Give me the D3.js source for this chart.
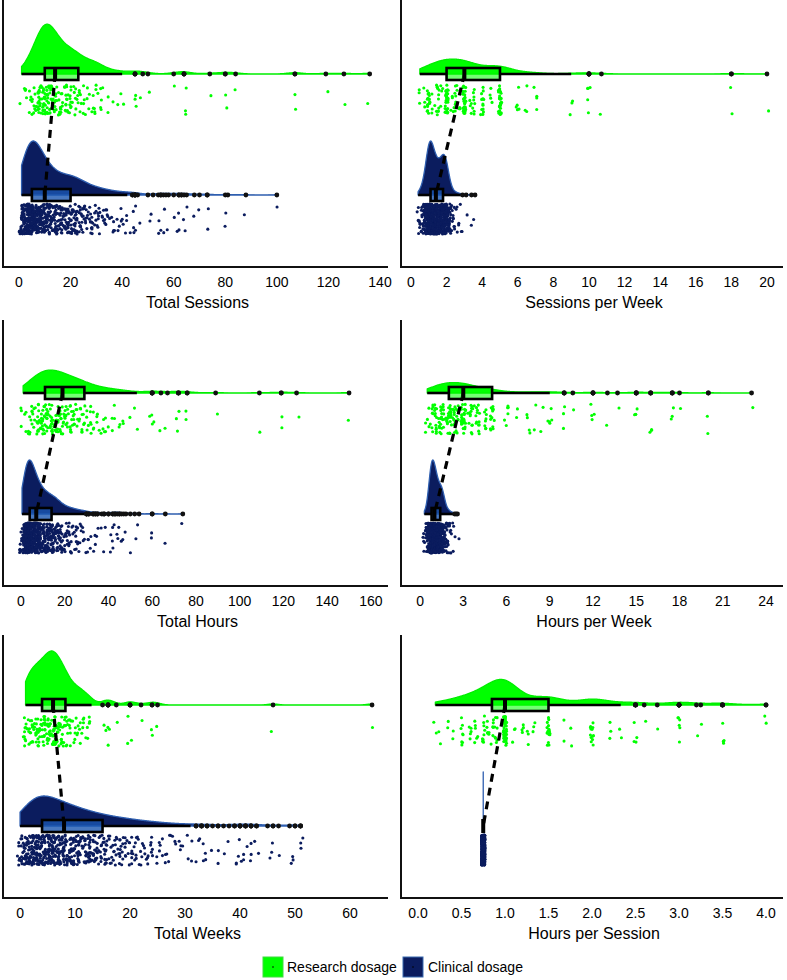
<!DOCTYPE html>
<html><head><meta charset="utf-8">
<script src="https://cdn.jsdelivr.net/npm/d3@7/dist/d3.min.js"></script>
<style>body{margin:0;background:#fff} svg{display:block} text{font-family:"Liberation Sans",Arial,sans-serif;fill:#000}</style>
</head><body><svg id="c" width="787" height="980"></svg>
<script>
// ---------- DATA (value, count) pairs ----------
const groups = ["Research dosage", "Clinical dosage"];
const titles = ["Total Sessions", "Sessions per Week", "Total Hours", "Hours per Week", "Total Weeks", "Hours per Session"];

const sessRes = [[1,1],[2,2],[3,2],[4,3],[5,4],[6,5],[7,8],[8,10],[9,12],[10,14],[11,12],[12,11],[13,10],[14,9],[15,8],[16,6],[17,6],[18,5],[19,5],[20,7],[21,5],[22,5],[23,4],[24,4],[25,3],[26,3],[27,2],[28,3],[29,3],[30,4],[31,2],[32,2],[33,1],[35,2],[36,1],[38,1],[40,2],[45,3],[48,1],[50,1],[60,1],[64,3],[74,1],[80,2],[84,1],[107,2],[119,1],[126,1],[136,1]];
const sessCli = [[1,20],[2,25],[3,35],[4,40],[5,40],[6,38],[7,32],[8,28],[9,24],[10,22],[11,18],[12,17],[13,15],[14,14],[15,13],[16,12],[17,12],[18,12],[19,12],[20,12],[21,12],[22,11],[23,10],[24,9],[25,8],[26,7],[27,6],[28,6],[29,5],[30,5],[31,4],[32,4],[33,4],[34,3],[35,3],[36,3],[37,2],[38,2],[39,2],[40,2],[41,2],[42,2],[44,2],[45,4],[46,1],[50,1],[52,1],[54,1],[55,2],[56,1],[57,1],[58,1],[60,1],[62,2],[63,2],[64,1],[65,1],[68,1],[70,1],[73,2],[80,1],[81,1],[88,1],[100,1]];

const spwRes = [[0.5,3],[0.7,3],[1,18],[1.25,4],[1.5,12],[1.75,4],[2,35],[2.33,4],[2.5,10],[2.67,4],[3,35],[3.33,4],[3.5,8],[4,14],[4.5,4],[5,34],[6,5],[6.5,3],[7,4],[9,3],[10,5],[10.7,1],[18,2],[20,1]];
const spwCli = [[0.4,3],[0.5,5],[0.6,8],[0.7,14],[0.8,25],[0.9,40],[1.0,52],[1.1,56],[1.2,50],[1.3,42],[1.4,36],[1.5,33],[1.6,33],[1.7,36],[1.8,40],[1.9,40],[2.0,36],[2.1,22],[2.2,12],[2.3,6],[2.4,4],[2.5,3],[2.6,2],[2.7,2],[2.8,1],[2.9,1],[3.1,1],[3.4,1],[3.6,1]];

const hoursRes = [[1,4],[3,6],[5,9],[7,11],[9,13],[11,15],[13,15],[15,14],[17,13],[19,12],[21,11],[23,10],[25,9],[27,8],[29,7],[31,5],[33,5],[35,4],[37,3],[39,3],[41,3],[43,2],[45,2],[47,2],[49,1],[51,1],[53,1],[60,4],[64,1],[67,1],[72,3],[76,2],[89,1],[109,1],[119,2],[126,1],[150,1]];
const hoursCli = [[0.5,8],[1,22],[2,50],[3,55],[4,52],[5,45],[6,38],[7,32],[8,27],[9,23],[10,21],[11,19],[12,18],[13,17],[14,16],[15,15],[16,14],[17,12],[18,10],[19,8],[20,7],[21,6],[22,6],[23,5],[24,5],[25,4],[26,4],[27,3],[28,3],[29,3],[30,3],[31,2],[33,2],[34,2],[35,2],[37,1],[38,2],[40,2],[42,2],[43,2],[44,1],[45,2],[46,1],[47,1],[48,1],[50,1],[52,1],[54,1],[60,2],[66,1],[74,1]];

const hpwRes = [[0.5,4],[0.75,5],[1,14],[1.25,5],[1.5,14],[1.75,6],[2,22],[2.25,6],[2.5,14],[2.75,6],[3,22],[3.25,5],[3.5,10],[3.75,5],[4,12],[4.5,8],[5,14],[6,6],[6.7,2],[7.5,4],[8,2],[8.5,2],[9,5],[10,3],[10.6,1],[12,4],[13,1],[13.7,1],[15,4],[16,3],[17.5,3],[18,1],[20,2],[23,1]];
const hpwCli = [[0.3,3],[0.4,5],[0.5,15],[0.6,30],[0.7,50],[0.8,62],[0.9,64],[1.0,58],[1.1,50],[1.2,42],[1.3,36],[1.4,34],[1.5,32],[1.6,26],[1.7,18],[1.8,10],[1.9,6],[2.0,5],[2.1,3],[2.2,2],[2.3,2],[2.4,1],[2.5,1],[2.6,1]];

const weeksRes = [[1,12],[2,15],[3,17],[4,18],[5,22],[6,24],[7,20],[8,16],[9,10],[10,8],[11,7],[12,5],[13,3],[15,1],[16,4],[17.5,1],[20,3],[22,1],[24,2],[25,1],[46,1],[64,1]];
const weeksCli = [[0,15],[1,30],[2,38],[3,42],[4,42],[5,40],[6,36],[7,32],[8,30],[9,27],[10,25],[11,22],[12,20],[13,18],[14,16],[15,15],[16,13],[17,12],[18,11],[19,10],[20,9],[21,8],[22,7],[23,6],[24,6],[25,5],[26,4],[27,4],[28,3],[29,3],[30,2],[31,3],[32,2],[33,3],[34,2],[35,1],[36,2],[37,1],[38,1],[39,2],[40,3],[41,3],[42,3],[43,2],[45,1],[46,2],[47,1],[49,1],[50,2],[51,3]];

const hpsRes = [[0.2,2],[0.25,2],[0.33,2],[0.4,2],[0.5,8],[0.6,5],[0.67,6],[0.75,9],[0.8,6],[0.85,6],[0.9,8],[1.0,43],[1.1,3],[1.2,4],[1.25,3],[1.33,3],[1.5,16],[1.67,2],[1.75,2],[2.0,13],[2.2,3],[2.33,2],[2.5,4],[2.6,1],[2.75,1],[3.0,6],[3.2,1],[3.25,1],[3.5,4],[4.0,2]];
const hpsCli = [[0.75,580]];

// tick labels
const sessTicks = [0,20,40,60,80,100,120,140];
const spwTicks = [0,2,4,6,8,10,12,14,16,18,20];
const hoursTicks = [0,20,40,60,80,100,120,140,160];
const hpwTicks = [0,3,6,9,12,15,18,21,24];
const weeksTicks = [0,10,20,30,40,50,60];
const hpsTicks = [0,0.5,1,1.5,2,2.5,3,3.5,4];
// axis limits (value range shown on each x axis)
const sessLim = [-6.2,143.1], spwLim = [-0.56,20.9], hoursLim = [-8.2,167.8], hpwLim = [-1.32,25.18], weeksLim = [-3.1,66.9], hpsLim = [-0.195,4.195];

// ---------- build ----------
const panels = [
  {res: sessRes, cli: sessCli, ticks: sessTicks, lim: sessLim, title: titles[0], fmt: d3.format("d"), jw: 2.5},
  {res: spwRes, cli: spwCli, ticks: spwTicks, lim: spwLim, title: titles[1], fmt: d3.format("d"), jw: 1.6},
  {res: hoursRes, cli: hoursCli, ticks: hoursTicks, lim: hoursLim, title: titles[2], fmt: d3.format("d"), jw: 2.5},
  {res: hpwRes, cli: hpwCli, ticks: hpwTicks, lim: hpwLim, title: titles[3], fmt: d3.format("d"), jw: 2.2},
  {res: weeksRes, cli: weeksCli, ticks: weeksTicks, lim: weeksLim, title: titles[4], fmt: d3.format("d"), jw: 2.8},
  {res: hpsRes, cli: hpsCli, ticks: hpsTicks, lim: hpsLim, title: titles[5], fmt: d3.format(".1f"), jw: 1.6}
];
const colX = [[3,388],[401,783]];
const rowY = [[0,267],[320,586],[635,898]];
const fillCol = ["#00ff00", "#0b1c5e"];
const lineCol = ["#00ee00", "#2f5fb0"];
const boxFill = ["rgba(0,255,0,0.55)", "rgba(26,86,176,0.8)"];

function expand(pairs){ const out=[]; pairs.forEach(([v,c])=>{ for(let k=0;k<c;k++) out.push(v); }); return out; }
function nrd0(s){
  const n=s.length, sd=d3.deviation(s)||0;
  const iqr=d3.quantile(s,.75)-d3.quantile(s,.25);
  let lo=Math.min(sd, iqr/1.34);
  if(!(lo>0)) lo = sd || Math.abs(s[0]) || 1;
  return 0.9*lo*Math.pow(n,-0.2);
}
function kde(s){
  const bw=nrd0(s), lo=s[0], hi=s[s.length-1], m=512, pts=[];
  const norm = s.length*bw*Math.sqrt(2*Math.PI);
  for(let i=0;i<m;i++){
    const x = lo + (hi-lo)*i/(m-1);
    let sum=0; for(const v of s){ const z=(x-v)/bw; sum+=Math.exp(-0.5*z*z); }
    pts.push([x, sum/norm]);
  }
  return pts;
}
function stats(s){
  const q1=d3.quantile(s,.25), med=d3.quantile(s,.5), q3=d3.quantile(s,.75), iqr=q3-q1;
  const lo=q1-1.5*iqr, hi=q3+1.5*iqr;
  const inside=s.filter(v=>v>=lo&&v<=hi);
  return {q1,med,q3,wlo:d3.min(inside),whi:d3.max(inside),out:s.filter(v=>v<lo||v>hi)};
}
// deterministic scatter offsets for the jitter layout
const hash = (i, k) => { const t = Math.sin(i*12.9898 + k*78.233)*43758.5453; return t - Math.floor(t); };

const svg = d3.select("#c");

panels.forEach((p,pi)=>{
  const col = colX[pi%2], row = rowY[Math.floor(pi/2)];
  const axisY = row[1];
  const base = [axisY-193, axisY-72];
  const band = [[11,41],[9,39]];
  const x = d3.scaleLinear().domain(p.lim).range(col);
  const g = svg.append("g");
  const sets = [p.res, p.cli].map(d=>expand(d).sort(d3.ascending));
  const dens = sets.map(kde);
  const maxD = d3.max(dens.flat(), d=>d[1]);
  const h = d3.scaleLinear().domain([0,maxD]).range([0,54]);

  // half violins
  dens.forEach((dd,gi)=>{
    const area = d3.area().x(d=>x(d[0])).y0(base[gi]).y1(d=>base[gi]-h(d[1]));
    g.append("path").attr("d", area(dd)).attr("fill", fillCol[gi])
      .attr("stroke", lineCol[gi]).attr("stroke-width", 1.3).attr("stroke-linejoin","round");
  });
  // jittered points
  sets.forEach((s,gi)=>{
    g.append("g").selectAll("circle").data(s).join("circle")
      .attr("cx",(v,i)=>x(v) + (hash(i, pi*2+gi+1)-0.5)*2*p.jw)
      .attr("cy",(v,i)=>base[gi] + band[gi][0] + hash(i+7919, pi*2+gi+3)*(band[gi][1]-band[gi][0]))
      .attr("r",1.55).attr("fill",fillCol[gi]);
  });
  const st = sets.map(stats);
  // dashed median line
  g.append("line").attr("x1",x(st[0].med)).attr("y1",base[0]).attr("x2",x(st[1].med)).attr("y2",base[1])
    .attr("stroke","#000").attr("stroke-width",3.2).attr("stroke-dasharray","8,6");
  // box plots
  st.forEach((b,gi)=>{
    const y=base[gi];
    g.append("line").attr("x1",x(b.wlo)).attr("x2",x(b.q1)).attr("y1",y).attr("y2",y).attr("stroke","#000").attr("stroke-width",2.6);
    g.append("line").attr("x1",x(b.q3)).attr("x2",x(b.whi)).attr("y1",y).attr("y2",y).attr("stroke","#000").attr("stroke-width",2.6);
    g.append("rect").attr("x",x(b.q1)).attr("y",y-6).attr("width",x(b.q3)-x(b.q1)).attr("height",12)
      .attr("fill",boxFill[gi]).attr("stroke","#000").attr("stroke-width",2.6);
    g.append("line").attr("x1",x(b.med)).attr("x2",x(b.med)).attr("y1",y-7).attr("y2",y+7).attr("stroke","#000").attr("stroke-width",4);
    g.append("g").selectAll("circle").data(b.out).join("circle")
      .attr("cx",v=>x(v)).attr("cy",y).attr("r",2.4).attr("fill","#111");
  });
  // axes
  g.append("line").attr("x1",col[0]).attr("x2",col[0]).attr("y1",row[0]).attr("y2",axisY+1).attr("stroke","#111").attr("stroke-width",2);
  g.append("line").attr("x1",col[0]-1).attr("x2",col[1]).attr("y1",axisY).attr("y2",axisY).attr("stroke","#111").attr("stroke-width",2);
  g.append("g").selectAll("text").data(p.ticks).join("text")
    .attr("x",t=>x(t)).attr("y",axisY+20).attr("text-anchor","middle").attr("font-size","14px").text(p.fmt);
  g.append("text").attr("x",(col[0]+col[1])/2+2).attr("y",axisY+41).attr("text-anchor","middle")
    .attr("font-size","16px").text(p.title);
});

// legend
const lg = svg.append("g");
const legX = [263, 403], legTx = [287, 428];
groups.forEach((name,gi)=>{
  lg.append("rect").attr("x",legX[gi]).attr("y",957).attr("width",20).attr("height",20)
    .attr("fill",fillCol[gi]).attr("stroke", gi ? "#3a6ab0" : "#3fdc3f").attr("stroke-width",1);
  lg.append("circle").attr("cx",legX[gi]+10).attr("cy",967).attr("r",0.8).attr("fill","#000");
  lg.append("text").attr("x",legTx[gi]).attr("y",972).attr("font-size","14px").text(name);
});
</script></body></html>
